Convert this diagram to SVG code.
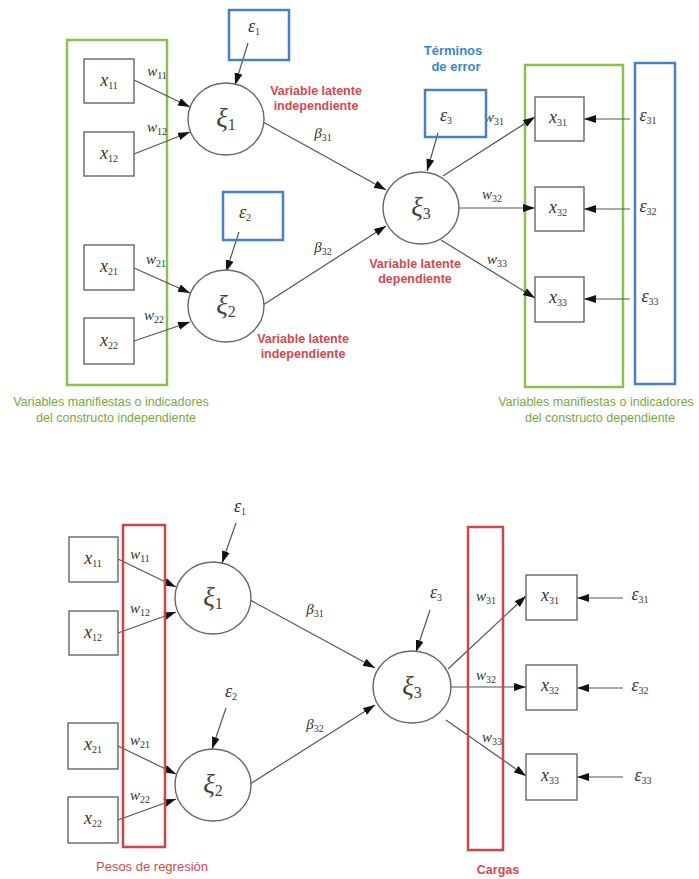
<svg xmlns="http://www.w3.org/2000/svg" width="699" height="879" viewBox="0 0 699 879">
<defs>
<marker id="ah" markerUnits="userSpaceOnUse" markerWidth="13" markerHeight="9" refX="12" refY="4" orient="auto"><path d="M0,0 L12,4 L0,8 z" fill="#111"/></marker>
<style>
.bg{fill:#fff}
.box{fill:#fff;stroke:#666;stroke-width:1.4}
.circ{fill:#fff;stroke:#666;stroke-width:1.4}
.grn{fill:none;stroke:#8fbf4d;stroke-width:2.5}
.blu{fill:none;stroke:#4a7fc4;stroke-width:2.5}
.red{fill:none;stroke:#c9474b;stroke-width:2.5}
.ln{fill:none;stroke:#555;stroke-width:1.2;marker-end:url(#ah)}
.m{font-family:"Liberation Serif","DejaVu Serif",serif;font-style:italic;font-size:18px;fill:#333;text-anchor:middle}
.w{font-family:"Liberation Serif","DejaVu Serif",serif;font-style:italic;font-size:15px;fill:#333;text-anchor:middle}
.xi{font-family:"Liberation Serif","DejaVu Serif",serif;font-style:italic;font-size:27px;fill:#444;text-anchor:middle}
.s{font-size:10px;font-style:normal}
.s2{font-size:16px;font-style:normal}
.rl{font-family:"Liberation Sans",Arial,sans-serif;font-weight:bold;font-size:12.5px;fill:#d24a4f;text-anchor:middle}
.bl{font-family:"Liberation Sans",Arial,sans-serif;font-weight:bold;font-size:13px;fill:#3a86cf;text-anchor:middle}
.gl{font-family:"Liberation Sans",Arial,sans-serif;font-size:12.5px;fill:#7aa83e;text-anchor:middle}
.rr{font-family:"Liberation Sans",Arial,sans-serif;font-size:13px;fill:#d24a4f;text-anchor:middle}
</style>
</defs>
<rect class="bg" x="0" y="0" width="699" height="879"/>

<!-- ===== TOP DIAGRAM ===== -->
<g id="top-groups">
<rect class="grn" x="67" y="40" width="100" height="345"/>
<rect class="grn" x="525" y="65" width="98" height="322"/>
<rect class="blu" x="635" y="63" width="40" height="321"/>
</g>

<g id="top-connectors">
<path class="ln" d="M134,80 L190,107"/>
<path class="ln" d="M134,154 L190,132"/>
<path class="ln" d="M134,268 L190,293"/>
<path class="ln" d="M134,341 L190,322"/>
<path class="ln" d="M248,43 L235,85"/>
<path class="ln" d="M239,232 L226,272"/>
<path class="ln" d="M263,122 L386,190"/>
<path class="ln" d="M263,305 L386,226"/>
<path class="ln" d="M438,133 L427,171"/>
<path class="ln" d="M443,176 L535,117"/>
<path class="ln" d="M459,208 L535,208"/>
<path class="ln" d="M441,240 L535,298"/>
<path class="ln" d="M630,119 L584,119"/>
<path class="ln" d="M630,209 L584,209"/>
<path class="ln" d="M630,299 L584,299"/>
</g>

<g id="t-x11"><rect class="box" x="84" y="59" width="50" height="44"/><text class="m" x="109" y="86">x<tspan class="s" dy="3">11</tspan></text></g>
<g id="t-x12"><rect class="box" x="84" y="132" width="50" height="44"/><text class="m" x="109" y="159">x<tspan class="s" dy="3">12</tspan></text></g>
<g id="t-x21"><rect class="box" x="84" y="245" width="50" height="45"/><text class="m" x="109" y="272">x<tspan class="s" dy="3">21</tspan></text></g>
<g id="t-x22"><rect class="box" x="84" y="318" width="50" height="46"/><text class="m" x="109" y="346">x<tspan class="s" dy="3">22</tspan></text></g>

<g id="t-w"><text class="w" x="157" y="76">w<tspan class="s" dy="3">11</tspan></text>
<text class="w" x="157" y="132">w<tspan class="s" dy="3">12</tspan></text>
<text class="w" x="156" y="264">w<tspan class="s" dy="3">21</tspan></text>
<text class="w" x="154" y="320">w<tspan class="s" dy="3">22</tspan></text>
<text class="w" x="494" y="122">w<tspan class="s" dy="3">31</tspan></text>
<text class="w" x="492" y="199">w<tspan class="s" dy="3">32</tspan></text>
<text class="w" x="497" y="264">w<tspan class="s" dy="3">33</tspan></text>
<text class="w" x="323" y="138">β<tspan class="s" dy="3">31</tspan></text>
<text class="w" x="323" y="252">β<tspan class="s" dy="3">32</tspan></text></g>

<g id="t-xi1"><ellipse class="circ" cx="226" cy="119" rx="38" ry="36"/><text class="xi" x="226" y="127">ξ<tspan class="s2" dy="3">1</tspan></text></g>
<g id="t-xi2"><ellipse class="circ" cx="226" cy="306" rx="38" ry="36"/><text class="xi" x="226" y="314">ξ<tspan class="s2" dy="3">2</tspan></text></g>
<g id="t-xi3"><ellipse class="circ" cx="421" cy="208" rx="38" ry="36"/><text class="xi" x="421" y="216">ξ<tspan class="s2" dy="3">3</tspan></text></g>

<g id="t-e1"><rect class="blu" x="229" y="10" width="60" height="50"/><text class="m" x="254" y="32">ε<tspan class="s" dy="3">1</tspan></text></g>
<g id="t-e2"><rect class="blu" x="223" y="192" width="60" height="48"/><text class="m" x="245" y="218">ε<tspan class="s" dy="3">2</tspan></text></g>
<g id="t-e3"><rect class="blu" x="425" y="90" width="61" height="47"/><text class="m" x="446" y="121">ε<tspan class="s" dy="3">3</tspan></text></g>

<g id="t-x31"><rect class="box" x="535" y="97" width="49" height="44"/><text class="m" x="558" y="123">x<tspan class="s" dy="3">31</tspan></text></g>
<g id="t-x32"><rect class="box" x="535" y="187" width="49" height="44"/><text class="m" x="558" y="213">x<tspan class="s" dy="3">32</tspan></text></g>
<g id="t-x33"><rect class="box" x="535" y="277" width="49" height="45"/><text class="m" x="558" y="303">x<tspan class="s" dy="3">33</tspan></text></g>

<g id="t-e3x"><text class="m" x="648" y="121">ε<tspan class="s" dy="3">31</tspan></text>
<text class="m" x="648" y="212">ε<tspan class="s" dy="3">32</tspan></text>
<text class="m" x="650" y="302">ε<tspan class="s" dy="3">33</tspan></text></g>

<g id="t-labels">
<text class="rl" x="316" y="95">Variable latente</text>
<text class="rl" x="316" y="110">independiente</text>
<text class="rl" x="415" y="268">Variable latente</text>
<text class="rl" x="415" y="283">dependiente</text>
<text class="rl" x="303" y="343">Variable latente</text>
<text class="rl" x="303" y="358">independiente</text>
<text class="bl" x="453" y="55">Términos</text>
<text class="bl" x="456" y="71">de error</text>
<text class="gl" x="111" y="406">Variables manifiestas o indicadores</text>
<text class="gl" x="116" y="422">del constructo  independiente</text>
<text class="gl" x="596" y="406">Variables manifiestas o indicadores</text>
<text class="gl" x="600" y="422">del constructo  dependiente</text>
</g>

<!-- ===== BOTTOM DIAGRAM ===== -->
<g id="bottom-connectors">
<path class="ln" d="M118,559 L176,587"/>
<path class="ln" d="M118,633 L176,612"/>
<path class="ln" d="M118,746 L176,774"/>
<path class="ln" d="M118,820 L176,799"/>
<path class="ln" d="M236,523 L222,563"/>
<path class="ln" d="M226,708 L212,749"/>
<path class="ln" d="M250,600 L375,668"/>
<path class="ln" d="M250,784 L375,705"/>
<path class="ln" d="M430,610 L416,652"/>
<path class="ln" d="M448,669 L526,596"/>
<path class="ln" d="M451,687 L526,687"/>
<path class="ln" d="M446,720 L526,776"/>
<path class="ln" d="M623,598 L577,598"/>
<path class="ln" d="M623,688 L577,688"/>
<path class="ln" d="M623,777 L577,777"/>
</g>

<g id="b-x11"><rect class="box" x="69" y="537" width="49" height="45"/><text class="m" x="93" y="564">x<tspan class="s" dy="3">11</tspan></text></g>
<g id="b-x12"><rect class="box" x="69" y="611" width="49" height="44"/><text class="m" x="93" y="638">x<tspan class="s" dy="3">12</tspan></text></g>
<g id="b-x21"><rect class="box" x="68" y="723" width="50" height="46"/><text class="m" x="93" y="750">x<tspan class="s" dy="3">21</tspan></text></g>
<g id="b-x22"><rect class="box" x="68" y="797" width="50" height="46"/><text class="m" x="93" y="824">x<tspan class="s" dy="3">22</tspan></text></g>

<g id="b-xi1"><ellipse class="circ" cx="213" cy="598" rx="38" ry="36"/><text class="xi" x="213" y="606">ξ<tspan class="s2" dy="3">1</tspan></text></g>
<g id="b-xi2"><ellipse class="circ" cx="213" cy="785" rx="38" ry="36"/><text class="xi" x="213" y="793">ξ<tspan class="s2" dy="3">2</tspan></text></g>
<g id="b-xi3"><ellipse class="circ" cx="412" cy="687" rx="39" ry="36"/><text class="xi" x="412" y="695">ξ<tspan class="s2" dy="3">3</tspan></text></g>

<g id="b-x31"><rect class="box" x="526" y="575" width="51" height="45"/><text class="m" x="550" y="601">x<tspan class="s" dy="3">31</tspan></text></g>
<g id="b-x32"><rect class="box" x="526" y="665" width="51" height="45"/><text class="m" x="550" y="691">x<tspan class="s" dy="3">32</tspan></text></g>
<g id="b-x33"><rect class="box" x="526" y="754" width="51" height="46"/><text class="m" x="550" y="781">x<tspan class="s" dy="3">33</tspan></text></g>

<g id="b-groups">
<rect class="red" x="123" y="525" width="42" height="322"/>
<rect class="red" x="468" y="527" width="35" height="323"/>
</g>

<g id="b-texts">
<text class="w" x="140" y="559">w<tspan class="s" dy="3">11</tspan></text>
<text class="w" x="140" y="613">w<tspan class="s" dy="3">12</tspan></text>
<text class="w" x="140" y="745">w<tspan class="s" dy="3">21</tspan></text>
<text class="w" x="140" y="800">w<tspan class="s" dy="3">22</tspan></text>
<text class="w" x="486" y="601">w<tspan class="s" dy="3">31</tspan></text>
<text class="w" x="486" y="680">w<tspan class="s" dy="3">32</tspan></text>
<text class="w" x="492" y="742">w<tspan class="s" dy="3">33</tspan></text>
<text class="w" x="315" y="614">β<tspan class="s" dy="3">31</tspan></text>
<text class="w" x="315" y="729">β<tspan class="s" dy="3">32</tspan></text>
<text class="m" x="240" y="512">ε<tspan class="s" dy="3">1</tspan></text>
<text class="m" x="231" y="697">ε<tspan class="s" dy="3">2</tspan></text>
<text class="m" x="436" y="598">ε<tspan class="s" dy="3">3</tspan></text>
<text class="m" x="640" y="600">ε<tspan class="s" dy="3">31</tspan></text>
<text class="m" x="640" y="691">ε<tspan class="s" dy="3">32</tspan></text>
<text class="m" x="643" y="781">ε<tspan class="s" dy="3">33</tspan></text>
<text class="rr" x="152" y="871">Pesos de  regresión</text>
<text class="rl" x="498" y="874">Cargas</text>
</g>
</svg>
